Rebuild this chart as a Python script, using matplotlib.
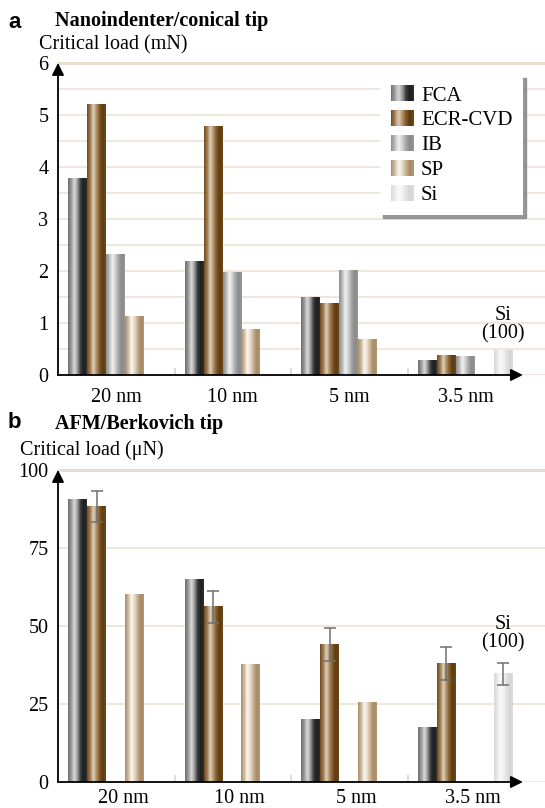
import numpy as np
import matplotlib
matplotlib.use("Agg")
from matplotlib import pyplot as plt
from matplotlib.colors import LinearSegmentedColormap
from matplotlib.patches import Rectangle
from matplotlib.legend_handler import HandlerBase
from matplotlib.transforms import ScaledTranslation

nan = np.nan

groups = ["20 nm", "10 nm", "5 nm", "3.5 nm"]
films = ["FCA", "ECR-CVD", "IB", "SP", "Si"]

# nanoindenter, conical tip (mN)
nano_fca = [3.78, 2.19, 1.50, 0.27]
nano_ecr = [5.20, 4.77, 1.37, 0.37]
nano_ib = [2.31, 1.98, 2.00, 0.35]
nano_sp = [1.12, 0.87, 0.69, nan]
nano_si = [nan, nan, nan, 0.48]

# AFM, Berkovich tip (uN)
afm_fca = [90.7, 65.0, 20.0, 17.6]
afm_ecr = [88.3, 56.1, 44.0, 38.0]
afm_ecr_err = [4.9, 5.2, 5.3, 5.2]
afm_ib = [nan, nan, nan, nan]
afm_sp = [60.0, 37.8, 25.5, nan]
afm_si = [nan, nan, nan, 34.7]
afm_si_err = [nan, nan, nan, 3.6]

SERIF = "Liberation Serif"
SANS = "Liberation Sans"
FS = 14.5

# cylinder-like shading for each film
shades = {
    "FCA": ["#6e6e6e", "#9a9a9a", "#dadada", "#9c9c9c", "#3c3c3c", "#1e1e1e", "#2e2e2e"],
    "ECR-CVD": ["#6e4a1e", "#a07c50", "#ddd0bc", "#b09068", "#7e5828", "#5e3c10", "#6a4818"],
    "IB": ["#8c8c8c", "#b8b8b8", "#f2f2f2", "#d0d0d0", "#a4a4a4", "#8a8a8a", "#969696"],
    "SP": ["#a88e6a", "#cdb99c", "#fbf8f2", "#e6dccb", "#c4ae8e", "#a68a64", "#b09674"],
    "Si": ["#d8d8d8", "#e8e8e8", "#fbfbfb", "#f2f2f2", "#e2e2e2", "#d6d6d6", "#dcdcdc"],
}
cmaps = {k: LinearSegmentedColormap.from_list(k, v) for k, v in shades.items()}
ramp = np.linspace(0, 1, 64)[np.newaxis, :]

W, H = 545, 808
fig = plt.figure(figsize=(W / 100, H / 100), dpi=100)

grid_col = "#ebe3d4"
off, bw = 0.086, 0.163


def px(x, y):
    return x / W, 1 - y / H


def add_axes(top, bottom):
    l, b = px(58, bottom)
    _, t = px(58, top)
    return fig.add_axes([l, b, 1 - l, t - b])


def shaded_bars(ax, j, values, name, err=None):
    xs = np.arange(len(groups)) + off + bw * (j + 0.5)
    bars = ax.bar(xs, values, bw, color="none", edgecolor="none", zorder=2)
    for bar in bars:
        h = bar.get_height()
        if not np.isfinite(h):
            continue
        x0 = bar.get_x()
        ax.imshow(ramp, cmap=cmaps[name], extent=[x0, x0 + bar.get_width(), 0, h],
                  aspect="auto", interpolation="bilinear", zorder=2)
    if err is not None:
        ax.errorbar(xs, values, yerr=err, fmt="none", ecolor="#6f6f6f",
                    elinewidth=1.1, capsize=4, capthick=1.1, zorder=3)
    return xs


def style_axes(ax, ymax, major, minor=None, xpad=9):
    ax.set_xlim(0, 4.18)
    ax.set_ylim(0, ymax)
    for s in ax.spines.values():
        s.set_visible(False)
    ax.set_yticks(np.arange(0, ymax + 0.01, major))
    ax.set_yticklabels([f"{v:g}" for v in np.arange(0, ymax + 0.01, major)],
                       fontfamily=SERIF, fontsize=FS)
    if minor is not None:
        ax.set_yticks(np.arange(0, ymax + 0.01, minor), minor=True)
        ax.grid(True, axis="y", which="minor", color=grid_col, lw=1.2, zorder=0)
    ax.grid(True, axis="y", which="major", color=grid_col, lw=1.2, zorder=0)
    ax.axhline(ymax, color="#e2d8c6", lw=2, zorder=1, clip_on=False)
    ax.tick_params(axis="y", which="both", length=0, pad=7)
    ax.set_xticks(np.arange(len(groups)) + 0.5)
    ax.set_xticklabels(groups, fontfamily=SERIF, fontsize=FS)
    ax.set_xticks([1, 2, 3], minor=True)
    ax.tick_params(axis="x", which="major", length=0, pad=xpad)
    ax.tick_params(axis="x", which="minor", direction="in", length=5, width=1.2,
                   color="#d6d6d6")
    arrow = dict(arrowstyle="-|>,head_length=0.6,head_width=0.3", color="black",
                 lw=1.3, shrinkA=0, shrinkB=0, mutation_scale=12)
    ax.annotate("", xy=(0, ymax), xytext=(0, 0), arrowprops=arrow,
                annotation_clip=False, zorder=5)
    ax.annotate("", xy=(3.99, 0), xytext=(0, 0), arrowprops=arrow,
                annotation_clip=False, zorder=5)
    ax.set_facecolor("white")


# panel a
ax1 = add_axes(63, 375)
series_a = [nano_fca, nano_ecr, nano_ib, nano_sp, nano_si]
for j, (name, vals) in enumerate(zip(films, series_a)):
    xs = shaded_bars(ax1, j, vals, name)
style_axes(ax1, 6, 1, 0.5)
ax1.annotate("Si\n(100)", xy=(xs[3], nano_si[3]), xytext=(0, 5),
             textcoords="offset points", ha="center", va="bottom",
             fontfamily=SERIF, fontsize=FS, linespacing=0.95)


class GradientHandler(HandlerBase):
    def __init__(self, cmap):
        super().__init__()
        self.cmap = cmap

    def create_artists(self, legend, orig_handle, xdescent, ydescent, width,
                       height, fontsize, trans):
        n = 30
        out = []
        for k in range(n):
            out.append(Rectangle((-xdescent + width * k / n, -ydescent),
                                 width / n * 1.1, height,
                                 facecolor=self.cmap((k + 0.5) / n),
                                 edgecolor="none", transform=trans))
        return out


proxies = [Rectangle((0, 0), 1, 1) for _ in films]
leg = ax1.legend(proxies, films, handler_map={p: GradientHandler(cmaps[f]) for p, f in zip(proxies, films)},
                 loc="upper right", bbox_to_anchor=px(523, 75),
                 bbox_transform=fig.transFigure, borderaxespad=0,
                 prop={"family": SERIF, "size": 15}, handlelength=1.1,
                 handleheight=0.8, handletextpad=0.35, labelspacing=0.22,
                 borderpad=0.5, fancybox=False, frameon=True, framealpha=1,
                 facecolor="white", edgecolor="none",
                 shadow={"color": "#8c8c8c", "alpha": 0.9})
leg.set_zorder(6)

# panel b
ax2 = add_axes(470, 782)
series_b = [afm_fca, afm_ecr, afm_ib, afm_sp, afm_si]
errs_b = [None, afm_ecr_err, None, None, afm_si_err]
for j, (name, vals, err) in enumerate(zip(films, series_b, errs_b)):
    xs = shaded_bars(ax2, j, vals, name, err)
style_axes(ax2, 100, 25, xpad=5)
for lab in ax2.get_xticklabels():
    lab.set_transform(lab.get_transform() + ScaledTranslation(5 / 72, 0, fig.dpi_scale_trans))
ax2.annotate("Si\n(100)", xy=(xs[3], afm_si[3] + afm_si_err[3]), xytext=(0, 7),
             textcoords="offset points", ha="center", va="bottom",
             fontfamily=SERIF, fontsize=FS, linespacing=0.95)

# panel headings
fig.text(*px(8, 22), "a", fontfamily=SANS, fontweight="bold", fontsize=16, va="center")
fig.text(*px(55, 21), "Nanoindenter/conical tip", fontfamily=SERIF,
         fontweight="bold", fontsize=FS, va="center")
fig.text(*px(39, 45), "Critical load (mN)", fontfamily=SERIF, fontsize=FS, va="center")
fig.text(*px(8, 423), "b", fontfamily=SANS, fontweight="bold", fontsize=16, va="center")
fig.text(*px(55, 424), "AFM/Berkovich tip", fontfamily=SERIF,
         fontweight="bold", fontsize=FS, va="center")
fig.text(*px(20, 450), "Critical load (\u03bcN)", fontfamily=SERIF, fontsize=FS, va="center")

fig.savefig("out.png", dpi=100, facecolor="white")
